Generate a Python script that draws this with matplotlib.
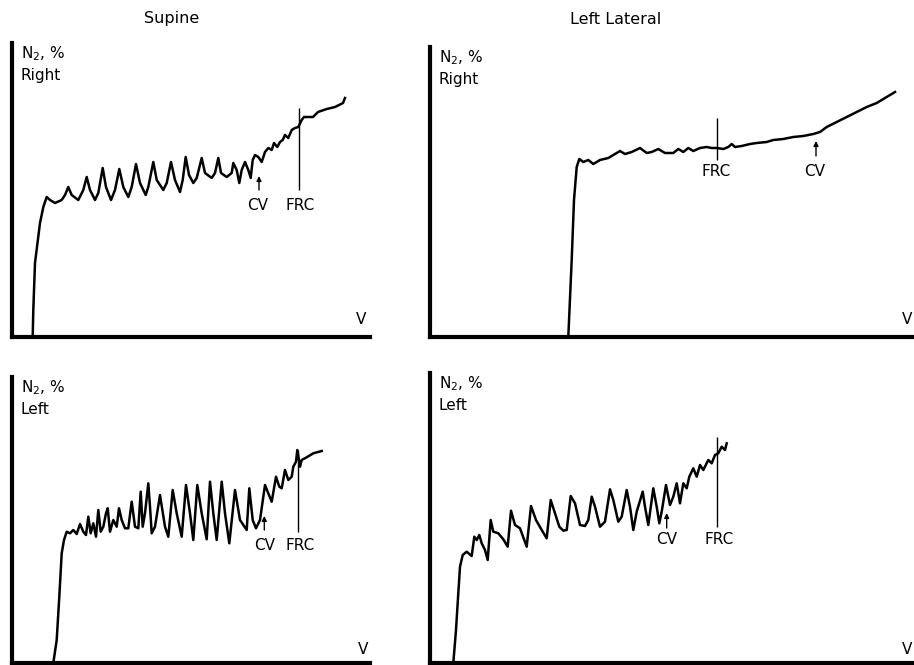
import matplotlib
matplotlib.use("Agg")
import matplotlib.pyplot as plt

# ---------------- data (volume units, N2 units) -------------
# Supine, Right
tl_x = [20.7, 21.3, 23, 28, 31.3, 34.7, 38, 43, 49.7, 53, 56.3, 59.7, 66.3, 71.3, 74.7, 78, 83, 86.3,
        90.7, 94, 99, 103, 107.3, 111.3, 116.3, 119.7, 124, 128, 133.7, 136.3, 141.3, 144.7, 151.3,
        154.7, 159, 163, 168, 170.7, 173.7, 177, 181.3, 184.7, 189.7, 193, 199.7, 203, 206.3, 209,
        214.7, 219.7, 221.3, 224.7, 227.3, 229.7, 233, 236.3, 238.7, 240.7, 243, 246.3, 249.7, 253,
        256.3, 259.7, 262, 265.3, 268, 270.7, 273, 276.3, 279.7, 283, 286.3, 289.7, 292, 301, 306,
        314.7, 323, 331, 333]
tl_y = [0, 27, 74, 114, 130, 140, 137, 134, 137, 142, 150, 142, 137, 147, 160, 147, 137, 144,
        169, 150, 137, 147, 168, 150, 140, 150, 173, 154, 142, 150, 175, 157, 147,
        154, 175, 157, 145, 157, 180, 162, 154, 159, 179, 164, 159, 164, 179, 164,
        160, 164, 174, 167, 154, 167, 175, 167, 159, 177, 182, 180, 175, 185,
        189, 187, 194, 190, 195, 197, 202, 199, 207, 209, 210, 217, 220, 220, 225,
        228, 230, 234, 239]
tl_cv, tl_frc = 247, 287

# Left lateral, Right
tr_x = [138.3, 141.7, 144, 146.7, 149.3, 153.3, 158.3, 163.3, 170, 178.3, 183.3, 190, 195, 201.7,
        210, 216.7, 221.7, 228.3, 235, 243.3, 248.3, 253.3, 258.3, 263.3, 270, 276.7, 281.7, 286.7,
        293.3, 298.3, 301.7, 305, 311.7, 320, 326.7, 336.7, 343.3, 353.3, 363.3, 373.3, 383.3, 390,
        396.7, 406.7, 416.7, 426.7, 436.7, 446.7, 456.7, 465]
tr_y = [0, 77, 137, 170, 178, 175, 177, 173, 177, 179, 182, 186, 183, 185,
        189, 184, 185, 188, 184, 184, 188, 185, 189, 186, 189, 190, 189, 189,
        188, 190, 193, 190, 191, 193, 194, 195, 197, 198, 200, 201, 203, 205,
        210, 215, 220, 225, 230, 234, 240, 245]
tr_cv, tr_frc = 386, 287

# Supine, Left
bl_x = [41.3, 44.7, 47.3, 49.7, 52, 54.7, 58, 61.3, 64.7, 68, 71.3, 74, 76.3, 78.7, 81.3, 84, 86.3,
        88.7, 91.3, 94, 95.7, 98, 101.3, 104.7, 107, 109.7, 113, 116.3, 119.7, 123, 126.3, 128.7,
        130.7, 133, 136.3, 138, 139.7, 143, 148, 153, 156.3, 160.7, 164.7, 169.7, 174, 178, 181.3,
        185.3, 189.7, 194.7, 198, 201.3, 204.7, 209.7, 213, 217.3, 223, 228, 234.7, 237.3, 240.7,
        244, 248, 253, 256.3, 259.7, 264, 267.3, 269.7, 273, 276.3, 279.7, 281.3, 284, 285.3, 288,
        289.7, 294.7, 301.3, 309.7]
bl_y = [0, 23, 66.3, 109.7, 123, 131.3, 129.7, 133, 129, 139, 131.3, 128, 146.3, 129.7, 139.7, 126.3, 153,
        131.3, 136.3, 149.7, 154.7, 131.3, 143, 136.3, 154.7, 143, 134.7, 134.7, 161.3, 136.3, 134.7, 171.3,
        136.3, 149.7, 179.7, 156.3, 129.7, 136.3, 168, 136.3, 126.3, 173, 149.7, 126.3, 178, 149.7, 123,
        178, 149.7, 123.7, 181.3, 149.7, 123, 181.3, 149.7, 119.7, 173, 143, 133, 174.7, 143,
        134.7, 143, 178, 169.7, 161.3, 186.3, 176.3, 174.7, 193, 183, 186.3, 196.3, 201.3, 213, 196.3,
        203, 205.7, 209.7, 212]
bl_cv, bl_frc = 252.3, 285.7

# Left lateral, Left
br_x = [23.3, 26, 28.3, 30, 32.7, 36.7, 41.7, 44.3, 46.7, 49.3, 51.7, 55, 57.7, 60.7, 63.3, 68.3, 73.3,
        77.7, 81, 85, 90, 96.7, 101, 106, 111.7, 116.7, 120.7, 125, 129.3, 133.3, 136.7, 140.7, 145,
        150, 155, 158.3, 161.7, 165, 170, 175, 180, 183.3, 188.3, 191.7, 196.7, 200, 203.3, 206.7,
        212.7, 215, 218.3, 223.3, 226.7, 229.3, 231.7, 236, 240, 243.3, 246.7, 250, 253.3, 256.7,
        259.3, 263.3, 266.7, 270, 273.3, 278.3, 281.7, 285, 288.3, 291.7, 295, 296.7]
br_y = [0, 33, 69.7, 96.3, 108, 111.3, 107, 126.3, 123, 128, 119.7, 113, 103, 143, 131.3, 129.7, 123.7,
        116.3, 152.3, 138, 134.7, 116.3, 157, 143, 133, 124.7, 163, 149.7, 136.3, 132.3, 133, 167, 159.7,
        138, 137, 143, 166.3, 156.3, 136.3, 141.3, 173.7, 163, 141.3, 146.3, 173, 156.3, 133, 151.3,
        171.3, 156.3, 138, 174.7, 156.3, 139.7, 151.3, 178, 158, 166.3, 179.7, 159.7, 179.7, 174.7,
        186.3, 194.7, 186.3, 198, 193, 203, 199.7, 208, 209.7, 216.3, 213, 219.7]
br_cv, br_frc = 236.7, 287.3

titles = ["Supine", "Left Lateral"]
side_labels = ["Right", "Right", "Left", "Left"]

# ---------------- figure -------------------------------------------------------------
W, H = 914, 665
fig = plt.figure(figsize=(W / 100, H / 100), dpi=100)
plt.rcParams['font.family'] = ['DejaVu Sans']

FS = 11
TFS = 11.5
LW = 1.8

def make_ax(left, top, right, bottom):
    ax = fig.add_axes([left / W, (H - bottom) / H, (right - left) / W, (bottom - top) / H])
    ax.set_xlim(0, right - left)
    ax.set_ylim(0, bottom - top)
    for s in ['top', 'right']:
        ax.spines[s].set_visible(False)
    for s in ['left', 'bottom']:
        ax.spines[s].set_linewidth(3.0)
        ax.spines[s].set_color('black')
    ax.set_xticks([])
    ax.set_yticks([])
    ax.patch.set_alpha(0)
    return ax

panels = [
    dict(box=(12, 43, 370, 337), x=tl_x, y=tl_y, cv=tl_cv, frc=tl_frc,
         frc_span=(147, 229), cv_span=(147, 161), cv_txt=(246, 132), frc_txt=(288, 132),
         v=(344, 10), lab=side_labels[0]),
    dict(box=(430, 47, 914, 337), x=tr_x, y=tr_y, cv=tr_cv, frc=tr_frc,
         frc_span=(177, 219), cv_span=(181, 196), cv_txt=(385, 165), frc_txt=(286, 165),
         v=(472, 10), lab=side_labels[1]),
    dict(box=(12, 377, 370, 663), x=bl_x, y=bl_y, cv=bl_cv, frc=bl_frc,
         frc_span=(131.3, 213), cv_span=(133, 147), cv_txt=(253, 118), frc_txt=(288, 118),
         v=(346, 6), lab=side_labels[2]),
    dict(box=(430, 373, 914, 663), x=br_x, y=br_y, cv=br_cv, frc=br_frc,
         frc_span=(136.3, 226.3), cv_span=(135, 150), cv_txt=(236.7, 123), frc_txt=(289, 123),
         v=(472, 6), lab=side_labels[3]),
]

axes = []
for p in panels:
    l, t, r, b = p['box']
    ax = make_ax(l, t, r, b)
    axes.append(ax)
    ax.plot(p['x'], p['y'], color='black', lw=LW, solid_joinstyle='round', clip_on=False)
    ax.vlines(p['frc'], p['frc_span'][0], p['frc_span'][1], color='black', lw=1.0)
    ax.annotate('', xy=(p['cv'], p['cv_span'][1]), xytext=(p['cv'], p['cv_span'][0]),
                arrowprops=dict(arrowstyle='-|>', color='black', lw=1.0, mutation_scale=7,
                                shrinkA=0, shrinkB=0))
    ax.text(p['cv_txt'][0], p['cv_txt'][1], 'CV', ha='center', va='center', fontsize=FS)
    ax.text(p['frc_txt'][0], p['frc_txt'][1], 'FRC', ha='center', va='center', fontsize=FS)
    ax.text(p['v'][0], p['v'][1], 'V', ha='left', va='bottom', fontsize=FS)
    htop = b - t
    ax.text(9, htop - 1, r'N$_2$, %', ha='left', va='top', fontsize=FS)
    ax.text(9, htop - 25, p['lab'], ha='left', va='top', fontsize=FS)

fig.text(172 / W, 1 - 19 / H, titles[0], ha='center', va='center', fontsize=TFS)
fig.text(616 / W, 1 - 19 / H, titles[1], ha='center', va='center', fontsize=TFS)

fig.savefig('out.png', dpi=100)
